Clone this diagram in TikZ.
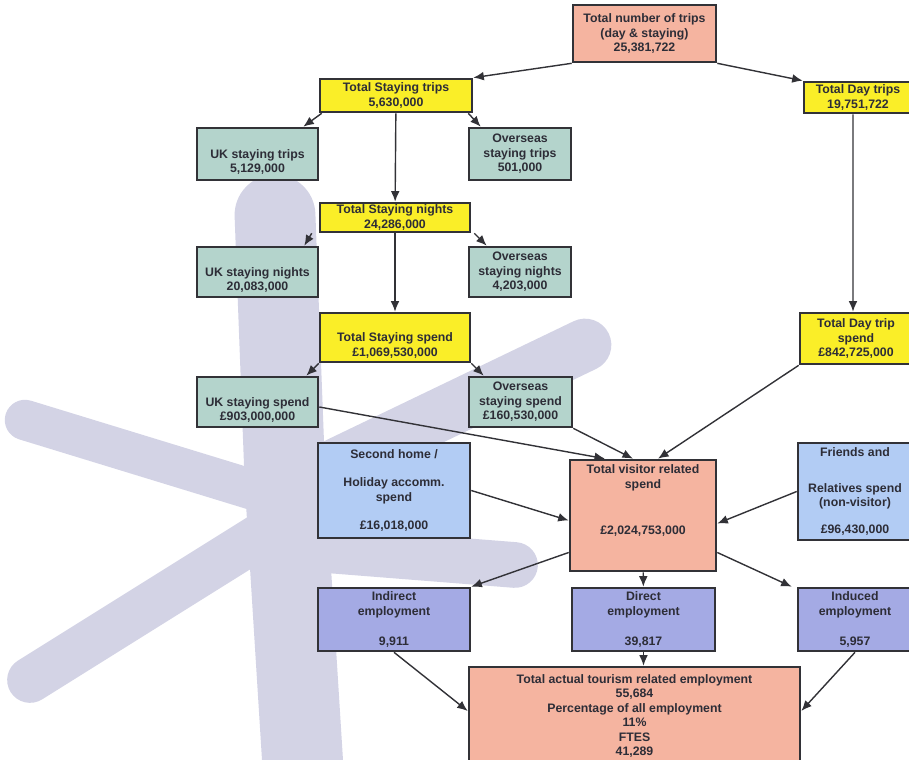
\documentclass[tikz,border=0pt]{standalone}
\usepackage{fontspec}
\setmainfont{Liberation Sans}
\usetikzlibrary{arrows.meta}
\definecolor{salmon}{RGB}{245,180,160}
\definecolor{lemon}{RGB}{250,238,40}
\definecolor{sage}{RGB}{180,212,204}
\definecolor{sky}{RGB}{178,204,244}
\definecolor{lilac}{RGB}{164,170,228}
\definecolor{boxline}{RGB}{50,50,55}
\definecolor{ink}{RGB}{45,45,55}
\definecolor{wm}{RGB}{211,211,229}

\begin{document}
\begin{tikzpicture}[x=0.02cm, y=-0.02cm,
    box/.style={draw=boxline, line width=1.5pt, align=center, text=ink, inner sep=1pt,
      font=\bfseries\fontsize{7}{8.3}\selectfont},
    pinkbox/.style={box, fill=salmon},
    yellowbox/.style={box, fill=lemon},
    greenbox/.style={box, fill=sage},
    bluebox/.style={box, fill=sky},
    empbox/.style={box, fill=lilac},
    link/.style={draw=boxline, line width=0.8pt, -{Latex[length=6pt,width=5pt]}}]
    \useasboundingbox (0,0) rectangle (909,760);
    \draw[wm, line width=46pt, line cap=round] (275,215) -- (285,480) -- (305,800);
    \draw[wm, line width=23pt, line cap=round] (25,420) -- (270,495);
    \draw[wm, line width=26pt, line cap=round] (30,680) -- (270,530);
    \draw[wm, line width=30pt, line cap=round] (300,482) -- (585,345);
    \draw[wm, line width=26pt, line cap=round] (300,548) -- (515,565);

    \node[pinkbox, minimum width=2.86cm, minimum height=1.14cm] (trips) at (644.5,33.5) {Total number of trips\\(day \& staying)\\25,381,722};
    \node[yellowbox, minimum width=2.16cm, minimum height=0.62cm] (daytrips) at (858,97.5) {Total Day trips\\19,751,722};
    \node[yellowbox, minimum width=3.04cm, minimum height=0.66cm] (staytrips) at (396,95.5) {Total Staying trips\\5,630,000};
    \node[greenbox, minimum width=2.42cm, minimum height=1.04cm] (ukstaytrips) at (257.5,154) {\strut\\UK staying trips\\5,129,000};
    \node[greenbox, minimum width=2.04cm, minimum height=1.04cm] (osstaytrips) at (520,154) {Overseas\\staying trips\\501,000};
    \node[yellowbox, minimum width=3.0cm, minimum height=0.58cm] (staynights) at (395,217.5) {Total Staying nights\\24,286,000};
    \node[greenbox, minimum width=2.42cm, minimum height=1.0cm] (uknights) at (257.5,272) {\strut\\UK staying nights\\20,083,000};
    \node[greenbox, minimum width=2.04cm, minimum height=1.0cm] (osnights) at (520,272) {Overseas\\staying nights\\4,203,000};
    \node[yellowbox, minimum width=3.0cm, minimum height=0.98cm] (stayspend) at (395,337.5) {\strut\\Total Staying spend\\£1,069,530,000};
    \node[greenbox, minimum width=2.42cm, minimum height=1.0cm] (ukspend) at (257.5,402) {\strut\\UK staying spend\\£903,000,000};
    \node[greenbox, minimum width=2.06cm, minimum height=1.0cm] (osspend) at (520.5,402) {Overseas\\staying spend\\£160,530,000};
    \node[yellowbox, minimum width=2.24cm, minimum height=1.02cm] (dayspend) at (856,338.5) {Total Day trip\\spend\\£842,725,000};
    \node[bluebox, minimum width=3.04cm, minimum height=1.9cm] (secondhome) at (394,490.5) {Second home /\\[8pt]Holiday accomm.\\spend\\[8pt]£16,018,000};
    \node[pinkbox, minimum width=2.92cm, minimum height=2.22cm] (visitor) at (643,515.5) {Total visitor related\\spend\\[18pt]£2,024,753,000\\[10pt]~};
    \node[bluebox, minimum width=2.28cm, minimum height=1.94cm] (friends) at (855,491.5) {Friends and\\[12pt]Relatives spend\\(non-visitor)\\[7pt]£96,430,000};
    \node[empbox, minimum width=3.04cm, minimum height=1.26cm] (indirect) at (394,619.5) {Indirect\\employment\\[9pt]9,911};
    \node[empbox, minimum width=2.86cm, minimum height=1.26cm] (direct) at (643.5,619.5) {Direct\\employment\\[9pt]39,817};
    \node[empbox, minimum width=2.28cm, minimum height=1.26cm] (induced) at (855,619.5) {Induced\\employment\\[9pt]5,957};
    \node[pinkbox, minimum width=6.62cm, minimum height=1.96cm] (total) at (634.5,716) {Total actual tourism related employment\\55,684\\Percentage of all employment\\11\%\\FTES\\41,289};

    \draw[link] (trips.south west) -- (staytrips.north east);
    \draw[link] (trips.south east) -- (daytrips.north west);
    \draw[link] ([xshift=0.06cm]staytrips.south west) -- ([xshift=-0.32cm]ukstaytrips.north east);
    \draw[link] ([xshift=-0.1cm]staytrips.south east) -- ([xshift=0.26cm]osstaytrips.north west);
    \draw[link] (staytrips) -- (staynights);
    \draw[link] ([xshift=-0.14cm]staynights.south west) -- ([xshift=-0.3cm]uknights.north east);
    \draw[link] ([xshift=0.06cm]staynights.south east) -- ([xshift=0.38cm]osnights.north west);
    \draw[link] (staynights) -- (stayspend);
    \draw[link] (stayspend.south west) -- ([xshift=-0.26cm]ukspend.north east);
    \draw[link] (stayspend.south east) -- ([xshift=0.32cm]osspend.north west);
    \draw[link] ([xshift=-0.1cm]daytrips.south) -- ([xshift=-0.06cm]dayspend.north);
    \draw[link] ([yshift=-0.1cm]ukspend.east) -- ([xshift=-0.76cm]visitor.north);
    \draw[link] (osspend.south east) -- ([xshift=-0.2cm]visitor.north);
    \draw[link] (dayspend.south west) -- ([xshift=0.3cm]visitor.north);
    \draw[link] (secondhome.east) -- ([yshift=-0.1cm]visitor.west);
    \draw[link] (friends.west) -- ([yshift=-0.16cm]visitor.east);
    \draw[link] ([yshift=-0.74cm]visitor.west) -- (indirect.north east);
    \draw[link] (visitor) -- (direct);
    \draw[link] ([yshift=-0.74cm]visitor.east) -- ([xshift=-0.1cm]induced.north west);
    \draw[link] (indirect.south) -- ([yshift=0.1cm]total.west);
    \draw[link] (direct.south) -- (direct.south |- total.north);
    \draw[link] (induced.south) -- ([yshift=0.1cm]total.east);
\end{tikzpicture}
\end{document}
